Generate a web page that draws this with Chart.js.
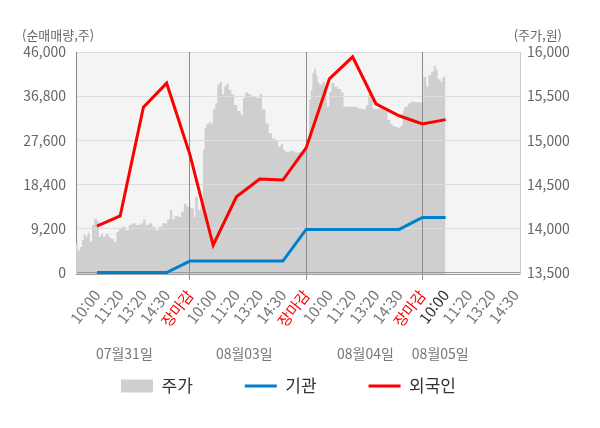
<!DOCTYPE html>
<html lang="ko">
<head>
<meta charset="utf-8">
<title>외국인·기관 순매매량과 주가</title>
<script src="https://cdn.jsdelivr.net/npm/chart.js@4.4.1/dist/chart.umd.min.js"></script>
<style>
  html, body { margin: 0; padding: 0; background: #fff; }
</style>
</head>
<body>
<canvas id="graficoNeto" width="600" height="428"></canvas>
<script>
// etiquetas del eje x (posiciones en "huecos" de media jornada)
const timeLabels = ['10:00', '11:20', '13:20', '14:30', '장마감',
                    '10:00', '11:20', '13:20', '14:30', '장마감',
                    '10:00', '11:20', '13:20', '14:30', '장마감',
                    '10:00', '11:20', '13:20', '14:30'];
const labelPos = [1, 2, 3, 4, 5, 6, 7, 8, 9, 10, 11, 12, 13, 14, 15, 16, 17, 18, 19];
const closeSlots = [5, 10, 15];
const darkLabelIndex = 15;

const dayLabels = ['07월31일', '08월03일', '08월04일', '08월05일'];
const dayLabelPos = [2.18, 7.34, 12.55, 15.77];

// 순매매량 (주)
const slotX = [1, 2, 3, 4, 5, 6, 7, 8, 9, 10, 11, 12, 13, 14, 15, 16];
const foreignNet = [9700, 11800, 34500, 39500, 24600, 5700, 15800, 19500, 19300, 26000, 40400, 45000, 35200, 32700, 31000, 31900];
const instNet = [0, 0, 0, 0, 2400, 2400, 2400, 2400, 2400, 9000, 9000, 9000, 9000, 9000, 11500, 11500];

// 주가 (원)
const priceX = [
  0.09, 0.17, 0.26, 0.36, 0.43, 0.50, 0.60, 0.69, 0.79, 0.89, 1.00, 1.08, 1.18, 1.26, 1.38, 1.50, 1.61, 1.72, 1.84, 1.94,
  2.08, 2.23, 2.37, 2.51, 2.66, 2.88, 2.99, 3.09, 3.23, 3.38, 3.52, 3.66, 3.81, 4.02, 4.14, 4.24, 4.34, 4.48, 4.62, 4.74, 4.86,
  5.00, 5.03, 5.17, 5.23, 5.34, 5.46, 5.56, 5.63, 5.70, 5.81, 5.89, 5.99, 6.09, 6.18, 6.28, 6.38, 6.47, 6.56, 6.67, 6.78, 6.90,
  7.04, 7.19, 7.28, 7.38, 7.50, 7.64, 7.86, 8.00, 8.10, 8.25, 8.39, 8.53, 8.68, 8.79, 8.91, 9.01, 9.11, 9.30, 9.51, 9.73, 9.91,
  10.03, 10.13, 10.20, 10.27, 10.34, 10.42, 10.49, 10.56, 10.70, 10.81, 10.89, 10.99, 11.09, 11.21, 11.35, 11.50, 11.61, 11.93,
  12.21, 12.43, 12.57, 12.67, 12.79, 12.86, 12.96, 13.15, 13.36, 13.50, 13.62, 13.72, 13.82, 13.94, 14.05, 14.15, 14.22, 14.37,
  14.51, 14.66,
  15.04, 15.16, 15.26, 15.38, 15.49, 15.59, 15.66, 15.78, 15.86, 15.95, 15.99
];
const priceY = [
  13830, 13750, 13790, 13870, 13940, 13910, 13950, 13850, 14040, 14110, 14080, 13910, 13940, 13910, 13940, 13900, 13880, 13850, 13960, 14000,
  14020, 13980, 14040, 14060, 14040, 14060, 14100, 14040, 14060, 14020, 13980, 14020, 14060, 14100, 14210, 14100, 14140, 14130, 14190, 14280, 14250,
  14290, 14230, 14130, 14360, 14210, 14320, 14890, 15140, 15180, 15210, 15190, 15350, 15420, 15630, 15660, 15520, 15610, 15640, 15570, 15520, 15400,
  15330, 15290, 15480, 15540, 15520, 15490, 15480, 15520, 15350, 15190, 15080, 15020, 15000, 14930, 14960, 14890, 14870, 14880, 14860, 14870, 14890,
  14930, 15460, 15570, 15760, 15810, 15740, 15660, 15630, 15660, 15570, 15380, 15550, 15650, 15610, 15580, 15540, 15380, 15380,
  15360, 15350, 15400, 15520, 15460, 15360, 15350, 15360, 15330, 15230, 15180, 15160, 15150, 15140, 15160, 15330, 15380, 15420,
  15440, 15430,
  15720, 15610, 15740, 15780, 15840, 15800, 15690, 15660, 15710, 15740, 15740
];

const leftTicks = [0, 9200, 18400, 27600, 36800, 46000];
const rightTicks = [13500, 14000, 14500, 15000, 15500, 16000];

const FONT = "'Noto Sans CJK KR', 'Noto Sans', sans-serif";

// fondo gris del area de trazado + rejilla por encima del area de precio
const fondoPlot = {
  id: 'fondoPlot',
  beforeDraw(chart) {
    const { ctx, chartArea: a } = chart;
    ctx.save();
    ctx.fillStyle = '#f4f4f4';
    ctx.fillRect(a.left, a.top, a.right - a.left, a.bottom - a.top);
    ctx.restore();
  },
  afterDatasetDraw(chart, args) {
    if (args.index === 0) {
      chart.scales.y.drawGrid(chart.chartArea);
      chart.scales.x.drawGrid(chart.chartArea);
    }
  }
};

// titulos de ejes y fechas debajo de las horas
const textos = {
  id: 'textos',
  afterDraw(chart) {
    const { ctx, chartArea: a, scales: { x } } = chart;
    ctx.save();
    ctx.textBaseline = 'middle';
    ctx.fillStyle = '#666';
    ctx.font = '13px ' + FONT;
    ctx.textAlign = 'left';
    ctx.fillText('(순매매량,주)', 22, a.top - 17);
    ctx.textAlign = 'right';
    ctx.fillText('(주가,원)', 562, a.top - 17);
    ctx.fillStyle = '#777';
    ctx.font = '14px ' + FONT;
    ctx.textAlign = 'center';
    dayLabels.forEach((t, i) => {
      ctx.fillText(t, x.getPixelForValue(dayLabelPos[i]), a.bottom + 79);
    });
    ctx.restore();
  }
};

function initGrafico() {
  Chart.defaults.font.family = FONT;

  const ctx = document.getElementById('graficoNeto').getContext('2d');
  new Chart(ctx, {
    type: 'line',
    data: {
      datasets: [
        {
          label: '주가',
          data: priceX.map((v, i) => ({ x: v, y: priceY[i] })),
          yAxisID: 'y1',
          borderWidth: 0,
          backgroundColor: '#cfcfcf',
          fill: 'start',
          stepped: 'before',
          pointRadius: 0,
          order: 3
        },
        {
          label: '기관',
          data: slotX.map((v, i) => ({ x: v, y: instNet[i] })),
          yAxisID: 'y',
          borderColor: '#0080cc',
          borderWidth: 3,
          pointRadius: 0,
          tension: 0,
          order: 2
        },
        {
          label: '외국인',
          data: slotX.map((v, i) => ({ x: v, y: foreignNet[i] })),
          yAxisID: 'y',
          borderColor: '#ff0000',
          borderWidth: 3,
          pointRadius: 0,
          tension: 0,
          order: 1
        }
      ]
    },
    options: {
      responsive: false,
      animation: false,
      layout: { padding: { top: 52, right: 23, bottom: 23.5, left: 0 } },
      plugins: {
        tooltip: { enabled: false },
        legend: {
          position: 'bottom',
          labels: {
            usePointStyle: true,
            pointStyleWidth: 32,
            boxHeight: 13,
            padding: 52,
            color: '#333',
            font: { size: 17 },
            generateLabels: chart => chart.data.datasets.map((d, i) => ({
              text: d.label,
              datasetIndex: i,
              pointStyle: i === 0 ? 'rect' : 'line',
              fillStyle: i === 0 ? d.backgroundColor : d.borderColor,
              strokeStyle: i === 0 ? d.backgroundColor : d.borderColor,
              lineWidth: i === 0 ? 0 : 3,
              fontColor: '#333'
            }))
          }
        }
      },
      scales: {
        x: {
          type: 'linear',
          min: 0.1,
          max: 19.2,
          afterBuildTicks: s => { s.ticks = labelPos.map(v => ({ value: v })); },
          afterFit: s => { s.height = 51; },
          ticks: {
            autoSkip: false,
            minRotation: 52,
            maxRotation: 52,
            padding: 7,
            font: { size: 15 },
            color: c => timeLabels[c.index] === '장마감' ? '#ff0000' : (c.index === darkLabelIndex ? '#333' : '#777'),
            callback: (v, i) => timeLabels[i]
          },
          grid: {
            color: c => (c.tick && closeSlots.includes(c.tick.value)) ? '#8c8c8c' : 'rgba(0,0,0,0)',
            tickColor: c => (c.tick && closeSlots.includes(c.tick.value)) ? '#8c8c8c' : 'rgba(0,0,0,0)',
            tickLength: 5
          },
          border: { color: '#999' }
        },
        y: {
          position: 'left',
          min: -400,
          max: 46000,
          afterBuildTicks: s => { s.ticks = leftTicks.map(v => ({ value: v })); },
          afterFit: s => { s.width = 76; },
          ticks: {
            padding: 10,
            color: '#666',
            font: { size: 14 },
            callback: v => v.toLocaleString('en-US')
          },
          grid: {
            drawTicks: false,
            color: c => (c.tick && c.tick.value === 0) ? '#9a9a9a' : '#dcdcdc'
          },
          border: { color: '#888' }
        },
        y1: {
          position: 'right',
          min: 13478,
          max: 16000,
          afterBuildTicks: s => { s.ticks = rightTicks.map(v => ({ value: v })); },
          afterFit: s => { s.width = 57; },
          ticks: {
            padding: 7,
            color: '#666',
            font: { size: 14 },
            callback: v => v.toLocaleString('en-US')
          },
          grid: { drawOnChartArea: false, drawTicks: false },
          border: { color: '#ccc' }
        }
      }
    },
    plugins: [fondoPlot, textos]
  });
}

window.addEventListener('DOMContentLoaded', () => {
  initGrafico();
});
</script>
</body>
</html>
